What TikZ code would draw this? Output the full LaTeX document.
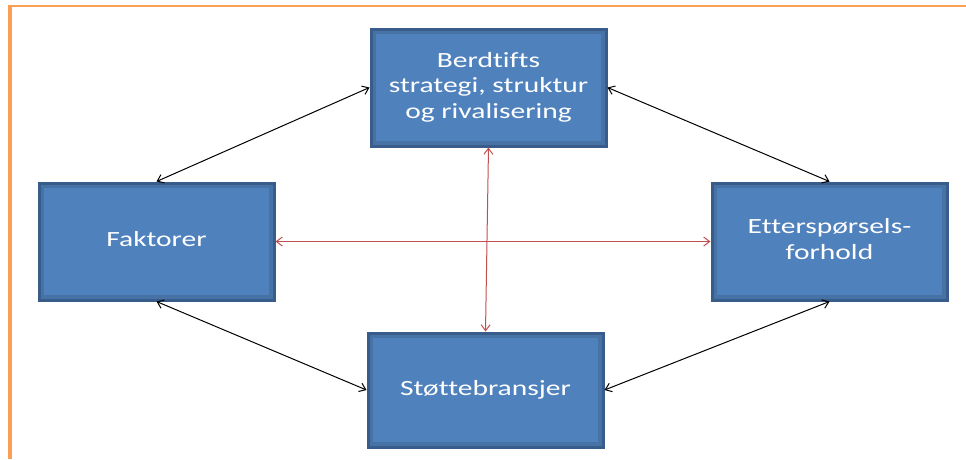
\documentclass[tikz,border=0pt]{standalone}
\usepackage{fontspec}
\newfontfamily\boxfont[Ligatures=NoCommon]{Carlito}
\usetikzlibrary{arrows.meta}
\definecolor{boxfill}{RGB}{79,129,189}
\definecolor{boxedge}{RGB}{56,93,138}
\definecolor{boxband}{RGB}{70,114,166}
\definecolor{linkred}{RGB}{192,80,77}
\definecolor{frameorange}{RGB}{250,160,85}
% wide Calibri-like lettering, stretched horizontally
\newcommand{\widetext}[1]{\scalebox{1.36}[1]{\begin{tabular}{@{}c@{}}#1\end{tabular}}}
\tikzset{
  factorbox/.style={rectangle, fill=boxfill, draw=boxedge, line width=3pt,
    minimum width=235pt, minimum height=117pt, inner sep=0pt,
    text=white, font=\boxfont\fontsize{21.7}{25.5}\selectfont,
    path picture={\draw[boxband, line width=10pt]
      (path picture bounding box.north west) rectangle (path picture bounding box.south east);}},
  link/.style={line width=1pt, {Straight Barb[length=6pt,width=9pt]}-{Straight Barb[length=6pt,width=9pt]}},
  blacklink/.style={link, black},
  redlink/.style={link, linkred}
}
\begin{document}
\begin{tikzpicture}[x=1pt, y=-1pt]
  \useasboundingbox (0,0) rectangle (966,459);
  % page frame
  \draw[frameorange, line width=2pt] (8,6) -- (966,6);
  \draw[frameorange, line width=4pt] (10,5) -- (10,459);
  % the four factors
  \node[factorbox] (strat) at (488.5,87.5) {\widetext{Berdtifts\\strategi, struktur\\og rivalisering}};
  \node[factorbox] (fakt) at (156.5,241.5) {\widetext{Faktorer}};
  \node[factorbox] (ett) at (829.5,241.5) {\widetext{Etterspørsels-\\forhold}};
  \node[factorbox, minimum height=114pt] (stot) at (485.5,390) {\widetext{Støttebransjer}};
  % links between factors
  \draw[blacklink] (fakt.north) -- (strat.west);
  \draw[blacklink] (strat.east) -- (ett.north);
  \draw[blacklink] (fakt.south) -- (stot.west);
  \draw[blacklink] (ett.south) -- (stot.east);
  \draw[redlink] (fakt.east) -- (ett.west);
  \draw[redlink] (strat.south) -- (stot.north);
\end{tikzpicture}
\end{document}
